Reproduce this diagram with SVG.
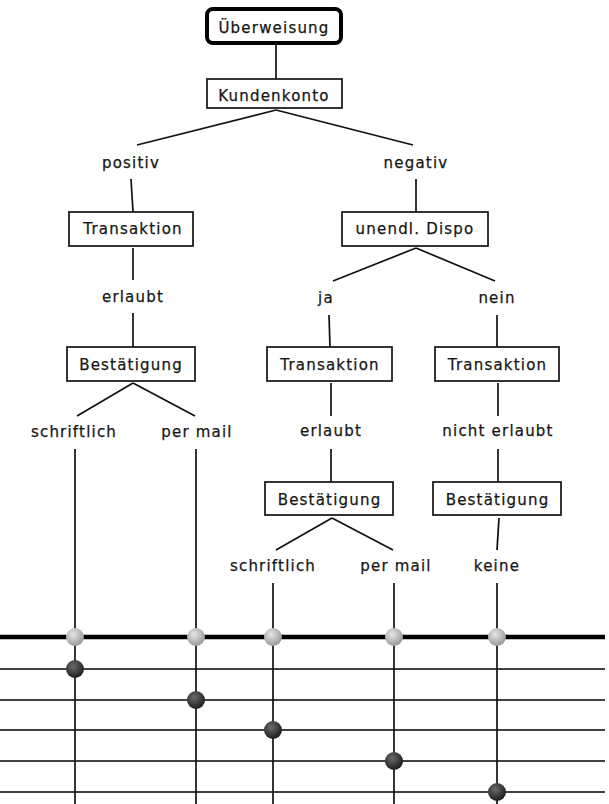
<svg xmlns="http://www.w3.org/2000/svg" width="609" height="804" viewBox="0 0 609 804">
  <defs>
    <radialGradient id="gLight" cx="0.4" cy="0.35" r="0.65">
      <stop offset="0" stop-color="#e6e6e6"/>
      <stop offset="1" stop-color="#9a9a9a"/>
    </radialGradient>
    <radialGradient id="gDark" cx="0.4" cy="0.35" r="0.65">
      <stop offset="0" stop-color="#6a6a6a"/>
      <stop offset="1" stop-color="#1e1e1e"/>
    </radialGradient>
    <style>
      text { font-family: "DejaVu Sans", Verdana, sans-serif; font-size: 15px; letter-spacing: 1.2px; fill: #161616; stroke: #161616; stroke-width: 0.25; text-anchor: middle; }
      .box { fill: #fff; stroke: #111; stroke-width: 1.7; }
      .root { fill: #fff; stroke: #000; stroke-width: 4; }
      .con line { stroke: #111; stroke-width: 1.7; }
      .rail { stroke: #000; stroke-width: 1.7; }
      .main { stroke: #000; stroke-width: 4.5; }
      .hi { fill: url(#gLight); }
      .lo { fill: url(#gDark); }
    </style>
  </defs>
  <rect width="609" height="804" fill="#fff"/>

  <!-- bottom rails: thick main line and five thin lines -->
  <g id="rails">
    <line class="main" x1="0" y1="637" x2="605" y2="637"/>
    <line class="rail" x1="0" y1="669" x2="605" y2="669"/>
    <line class="rail" x1="0" y1="700" x2="605" y2="700"/>
    <line class="rail" x1="0" y1="730" x2="605" y2="730"/>
    <line class="rail" x1="0" y1="761" x2="605" y2="761"/>
    <line class="rail" x1="0" y1="792" x2="605" y2="792"/>
  </g>

  <!-- connectors -->
  <g class="con" id="connectors">
    <line x1="276" y1="45" x2="276" y2="79"/>
    <line x1="276" y1="110" x2="137" y2="145"/>
    <line x1="276" y1="110" x2="413" y2="145"/>
    <line x1="131" y1="179" x2="133" y2="212"/>
    <line x1="133" y1="248" x2="133" y2="280"/>
    <line x1="133" y1="313" x2="133" y2="347"/>
    <line x1="133" y1="383" x2="77" y2="416"/>
    <line x1="133" y1="383" x2="195" y2="416"/>
    <line x1="75" y1="449" x2="75" y2="804"/>
    <line x1="196" y1="449" x2="196" y2="804"/>

    <line x1="416" y1="179" x2="416" y2="212"/>
    <line x1="416" y1="248" x2="333" y2="281"/>
    <line x1="416" y1="248" x2="495" y2="281"/>
    <line x1="329" y1="315" x2="330" y2="347"/>
    <line x1="497" y1="315" x2="497" y2="347"/>
    <line x1="331" y1="383" x2="331" y2="416"/>
    <line x1="498" y1="383" x2="498" y2="416"/>
    <line x1="331" y1="449" x2="331" y2="482"/>
    <line x1="498" y1="449" x2="498" y2="482"/>
    <line x1="332" y1="518" x2="276" y2="550"/>
    <line x1="332" y1="518" x2="393" y2="550"/>
    <line x1="499" y1="518" x2="497" y2="550"/>
    <line x1="273" y1="583" x2="273" y2="804"/>
    <line x1="394" y1="583" x2="394" y2="804"/>
    <line x1="497" y1="583" x2="497" y2="804"/>
  </g>

  <!-- nodes -->
  <g id="n-ueberweisung"><rect class="root" x="207" y="9" width="134" height="34" rx="6"/><text x="274" y="33">Überweisung</text></g>
  <g id="n-kundenkonto"><rect class="box" x="207" y="79" width="135" height="29"/><text x="274" y="101">Kundenkonto</text></g>
  <g id="n-positiv"><text x="131" y="168">positiv</text></g>
  <g id="n-negativ"><text x="416" y="168">negativ</text></g>

  <g id="n-transaktion-1"><rect class="box" x="69" y="212" width="124" height="34"/><text x="133" y="234">Transaktion</text></g>
  <g id="n-erlaubt-1"><text x="133" y="302">erlaubt</text></g>
  <g id="n-bestaetigung-1"><rect class="box" x="67" y="347" width="128" height="34"/><text x="131" y="370">Bestätigung</text></g>
  <g id="n-schriftlich-1"><text x="74" y="437">schriftlich</text></g>
  <g id="n-permail-1"><text x="197" y="437">per mail</text></g>

  <g id="n-dispo"><rect class="box" x="342" y="212" width="146" height="34"/><text x="415" y="234">unendl. Dispo</text></g>
  <g id="n-ja"><text x="326" y="303">ja</text></g>
  <g id="n-nein"><text x="497" y="303">nein</text></g>

  <g id="n-transaktion-2"><rect class="box" x="267" y="347" width="125" height="34"/><text x="330" y="370">Transaktion</text></g>
  <g id="n-transaktion-3"><rect class="box" x="435" y="347" width="124" height="34"/><text x="497.5" y="370">Transaktion</text></g>
  <g id="n-erlaubt-2"><text x="331" y="436">erlaubt</text></g>
  <g id="n-nichterlaubt"><text x="498" y="436">nicht erlaubt</text></g>
  <g id="n-bestaetigung-2"><rect class="box" x="265" y="482" width="128" height="33"/><text x="329.5" y="505">Bestätigung</text></g>
  <g id="n-bestaetigung-3"><rect class="box" x="433" y="482" width="128" height="33"/><text x="497.5" y="505">Bestätigung</text></g>
  <g id="n-schriftlich-2"><text x="273" y="571">schriftlich</text></g>
  <g id="n-permail-2"><text x="396" y="571">per mail</text></g>
  <g id="n-keine"><text x="497" y="571">keine</text></g>

  <!-- spheres on the rails -->
  <g id="spheres">
    <circle class="hi" cx="75" cy="637" r="9"/>
    <circle class="hi" cx="196" cy="637" r="9"/>
    <circle class="hi" cx="273" cy="637" r="9"/>
    <circle class="hi" cx="394" cy="637" r="9"/>
    <circle class="hi" cx="497" cy="637" r="9"/>
    <circle class="lo" cx="75" cy="669" r="9"/>
    <circle class="lo" cx="196" cy="700" r="9"/>
    <circle class="lo" cx="273" cy="730" r="9"/>
    <circle class="lo" cx="394" cy="761" r="9"/>
    <circle class="lo" cx="497" cy="792" r="9"/>
  </g>
</svg>
